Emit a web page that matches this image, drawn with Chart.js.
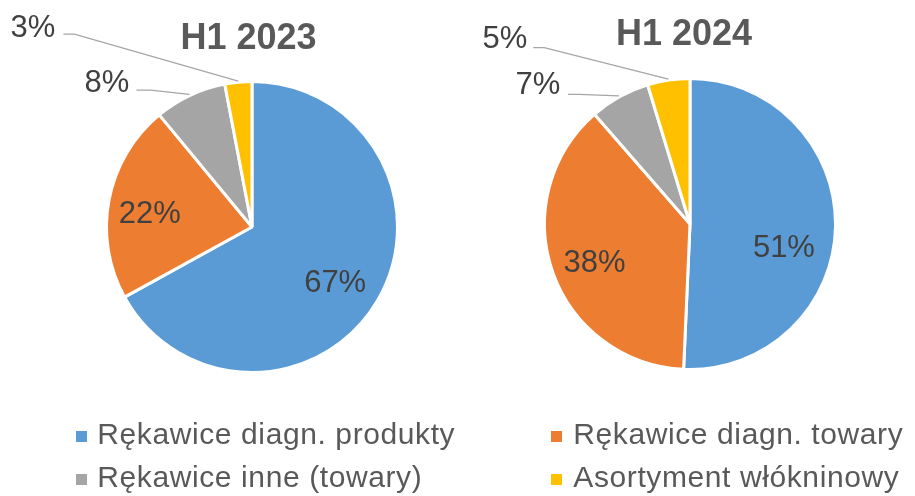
<!DOCTYPE html>
<html>
<head>
<meta charset="utf-8">
<script src="https://cdn.jsdelivr.net/npm/chart.js@4/dist/chart.umd.min.js"></script>
<style>
  html, body { margin:0; padding:0; background:#ffffff; }
  #wrap { position:relative; width:915px; height:496px; overflow:hidden; font-family:"Liberation Sans", Arial, sans-serif; }
  canvas { position:absolute; left:0; top:0; }
  .sq { position:absolute; width:11px; height:11px; }
  .lt { position:absolute; font-size:30px; line-height:30px; letter-spacing:0.6px; color:#595959; white-space:nowrap; }
</style>
</head>
<body>
<div id="wrap">
  <canvas id="c1" width="915" height="496"></canvas>
  <canvas id="c2" width="915" height="496"></canvas>
</div>
<script>
// ---- data ----
const categories = ['Rękawice diagn. produkty', 'Rękawice diagn. towary', 'Rękawice inne (towary)', 'Asortyment włókninowy'];
const values2023 = [67, 22, 8, 3];
const values2024 = [50.7, 37.9, 6.7, 4.7];
const chartTitles = ['H1 2023', 'H1 2024'];
const sliceColors = ['#5B9BD5', '#ED7D31', '#A5A5A5', '#FFC000'];

const FONT = '"Liberation Sans", Arial, sans-serif';

const pieLabels = {
  id: 'pieLabels',
  afterDraw(chart, args, opts) {
    const ctx = chart.ctx;
    const meta = chart.getDatasetMeta(0);
    const data = chart.data.datasets[0].data;
    const total = data.reduce((a, b) => a + b, 0);
    ctx.save();
    ctx.font = 'bold 36px ' + FONT;
    ctx.fillStyle = '#595959';
    ctx.textAlign = 'center';
    ctx.textBaseline = 'alphabetic';
    ctx.fillText(opts.title, opts.titleX, opts.titleY);

    ctx.font = '31px ' + FONT;
    meta.data.forEach((arc, i) => {
      const p = arc.getProps(['x', 'y', 'startAngle', 'endAngle', 'outerRadius'], true);
      const mid = (p.startAngle + p.endAngle) / 2;
      const txt = Math.round(data[i] / total * 100) + '%';
      const cfg = opts.labels[i];
      ctx.fillStyle = '#404040';
      ctx.textAlign = 'center';
      if (cfg.inside) {
        const d = p.outerRadius * 0.68;
        const cx = p.x + Math.cos(mid) * d + cfg.dx;
        const cy = p.y + Math.sin(mid) * d + cfg.dy;
        ctx.fillText(txt, cx, cy + 11);
      } else {
        const r0 = p.outerRadius + 1;
        const px = p.x + Math.cos(mid) * r0;
        const py = p.y + Math.sin(mid) * r0;
        const lx = px + cfg.dx, ly = py + cfg.dy;
        const w = ctx.measureText(txt).width;
        const lineY = ly + cfg.ly;
        const sx = lx + w / 2 + cfg.gap;
        ctx.strokeStyle = '#A6A6A6';
        ctx.lineWidth = 1.2;
        ctx.beginPath();
        ctx.moveTo(px, py);
        ctx.lineTo(sx + cfg.elbow, lineY);
        ctx.lineTo(sx, lineY);
        ctx.stroke();
        ctx.fillText(txt, lx, ly + 11);
      }
    });
    ctx.restore();
  }
};

function makePie(id, values, padding, labelOpts) {
  return new Chart(document.getElementById(id), {
    type: 'pie',
    data: {
      labels: categories,
      datasets: [{
        data: values,
        backgroundColor: sliceColors,
        borderColor: '#ffffff',
        borderWidth: 3,
        radius: 145.5
      }]
    },
    options: {
      responsive: false,
      animation: false,
      events: [],
      layout: { padding: padding },
      plugins: {
        legend: { display: false },
        tooltip: { enabled: false },
        title: { display: false },
        pieLabels: labelOpts
      }
    },
    plugins: [pieLabels]
  });
}

makePie('c1', values2023, { left: 0, right: 411, top: 0, bottom: 42 }, {
  title: chartTitles[0], titleX: 248.5, titleY: 49.3,
  labels: [
    { inside: true, dx: -2, dy: 4 },
    { inside: true, dx: -5, dy: 4 },
    { inside: false, dx: -82.6, dy: -13.9, ly: 9.5, gap: 7, elbow: 14 },
    { inside: false, dx: -205.2, dy: -55.6, ly: 8.5, gap: 8, elbow: 11 }
  ]
});

makePie('c2', values2024, { left: 465, right: 0, top: 0, bottom: 48 }, {
  title: chartTitles[1], titleX: 684, titleY: 45,
  labels: [
    { inside: true, dx: -5, dy: 20 },
    { inside: true, dx: -2, dy: 4 },
    { inside: false, dx: -81, dy: -12.8, ly: 11.3, gap: 7.5, elbow: 11 },
    { inside: false, dx: -163.6, dy: -41.6, ly: 10.2, gap: 6, elbow: 11 }
  ]
});

// ---- legend (HTML text) ----
const legendPos = [
  { sx: 76, tx: 97.3, base: 444.3 },
  { sx: 551, tx: 573.3, base: 444.3 },
  { sx: 76, tx: 97.3, base: 487.7 },
  { sx: 551, tx: 573.3, base: 487.7 }
];
const wrap = document.getElementById('wrap');
categories.forEach((name, i) => {
  const pos = legendPos[i];
  const sq = document.createElement('div');
  sq.className = 'sq';
  sq.style.background = sliceColors[i];
  sq.style.left = pos.sx + 'px';
  sq.style.top = (pos.base - 13.5) + 'px';
  wrap.appendChild(sq);
  const t = document.createElement('div');
  t.className = 'lt';
  t.textContent = name;
  t.style.left = pos.tx + 'px';
  // baseline offset for Liberation Sans with line-height == font-size: 0.905*fs - (1.117*fs - fs)/2
  t.style.top = (pos.base - 25.4) + 'px';
  wrap.appendChild(t);
});
</script>
</body>
</html>
